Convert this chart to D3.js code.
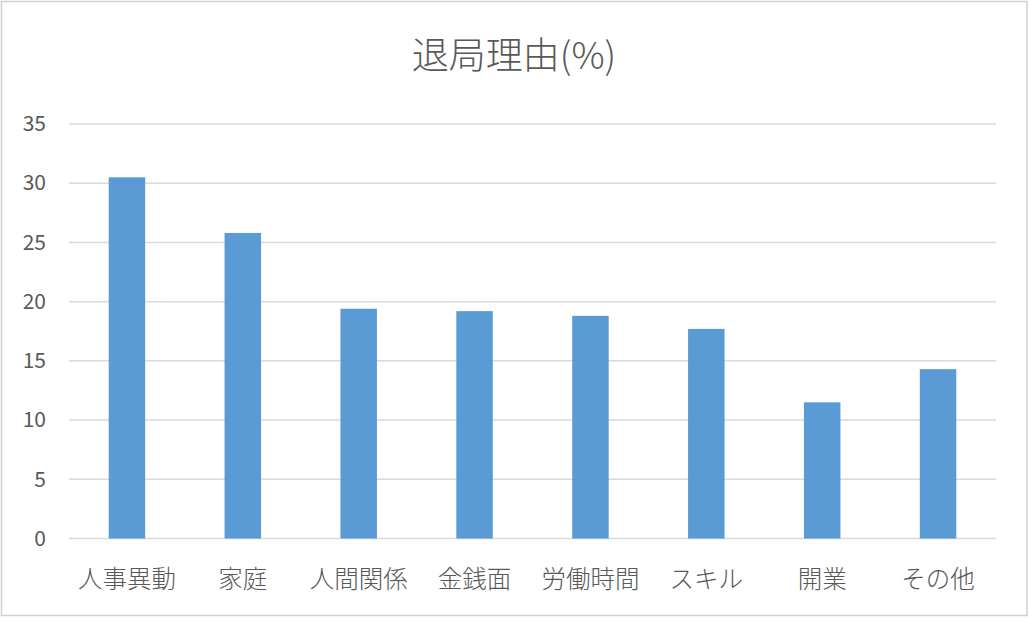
<!DOCTYPE html>
<html><head><meta charset="utf-8">
<script src="https://cdn.jsdelivr.net/npm/d3@7"></script>
<style>
html,body{margin:0;padding:0;background:#fff;}
svg{display:block;}
text{font-family:"Noto Sans CJK JP","Noto Sans",sans-serif;}
</style></head>
<body>
<script>
const categories = ["人事異動","家庭","人間関係","金銭面","労働時間","スキル","開業","その他"];
const values = [30.5, 25.8, 19.4, 19.2, 18.8, 17.7, 11.5, 14.3];
const yTicks = [0,5,10,15,20,25,30,35];
const title = "退局理由(%)";

const W = 1029, H = 618;
const svg = d3.select("body").append("svg").attr("width", W).attr("height", H);

svg.append("rect").attr("x",1.5).attr("y",1.5).attr("width",W-3.5).attr("height",H-4)
  .attr("fill","#fff").attr("stroke","#d0d0d0").attr("stroke-width",1.5);

const x = d3.scaleBand().domain(categories).range([69, 996]).paddingInner(0.685).paddingOuter(0.3425);
const y = d3.scaleLinear().domain([0,35]).range([538.5, 124]);

// gridlines
svg.append("g").selectAll("line").data(yTicks).join("line")
  .attr("x1",69).attr("x2",996)
  .attr("y1",d=>y(d)).attr("y2",d=>y(d))
  .attr("stroke","#d9d9d9").attr("stroke-width",1.5);

// y axis labels
const yAxis = d3.axisLeft(y).tickValues(yTicks).tickSize(0).tickPadding(0);
const gy = svg.append("g").attr("transform","translate(46,0)").call(yAxis);
gy.select(".domain").remove();
gy.selectAll("text").attr("font-size",21).attr("fill","#595959")
  .attr("font-family","'Open Sans','Noto Sans',sans-serif");

// bars
svg.append("g").selectAll("rect").data(values).join("rect")
  .attr("x",(d,i)=>x(categories[i]))
  .attr("width",x.bandwidth())
  .attr("y",d=>y(d))
  .attr("height",d=>y(0)-y(d))
  .attr("fill","#5b9bd5");

// x axis labels
const xAxis = d3.axisBottom(x).tickSize(0).tickPadding(0);
const gx = svg.append("g").attr("transform","translate(0,577)").call(xAxis);
gx.select(".domain").remove();
gx.selectAll("text").attr("font-size",24.5).attr("fill","#595959").attr("font-weight",300)
  .attr("dy",null).attr("dominant-baseline","central");

// title
svg.append("text").attr("x",514).attr("y",53).attr("text-anchor","middle")
  .attr("dominant-baseline","central").attr("font-weight",300)
  .attr("font-size",37).attr("fill","#595959").text(title);
</script>
</body></html>
